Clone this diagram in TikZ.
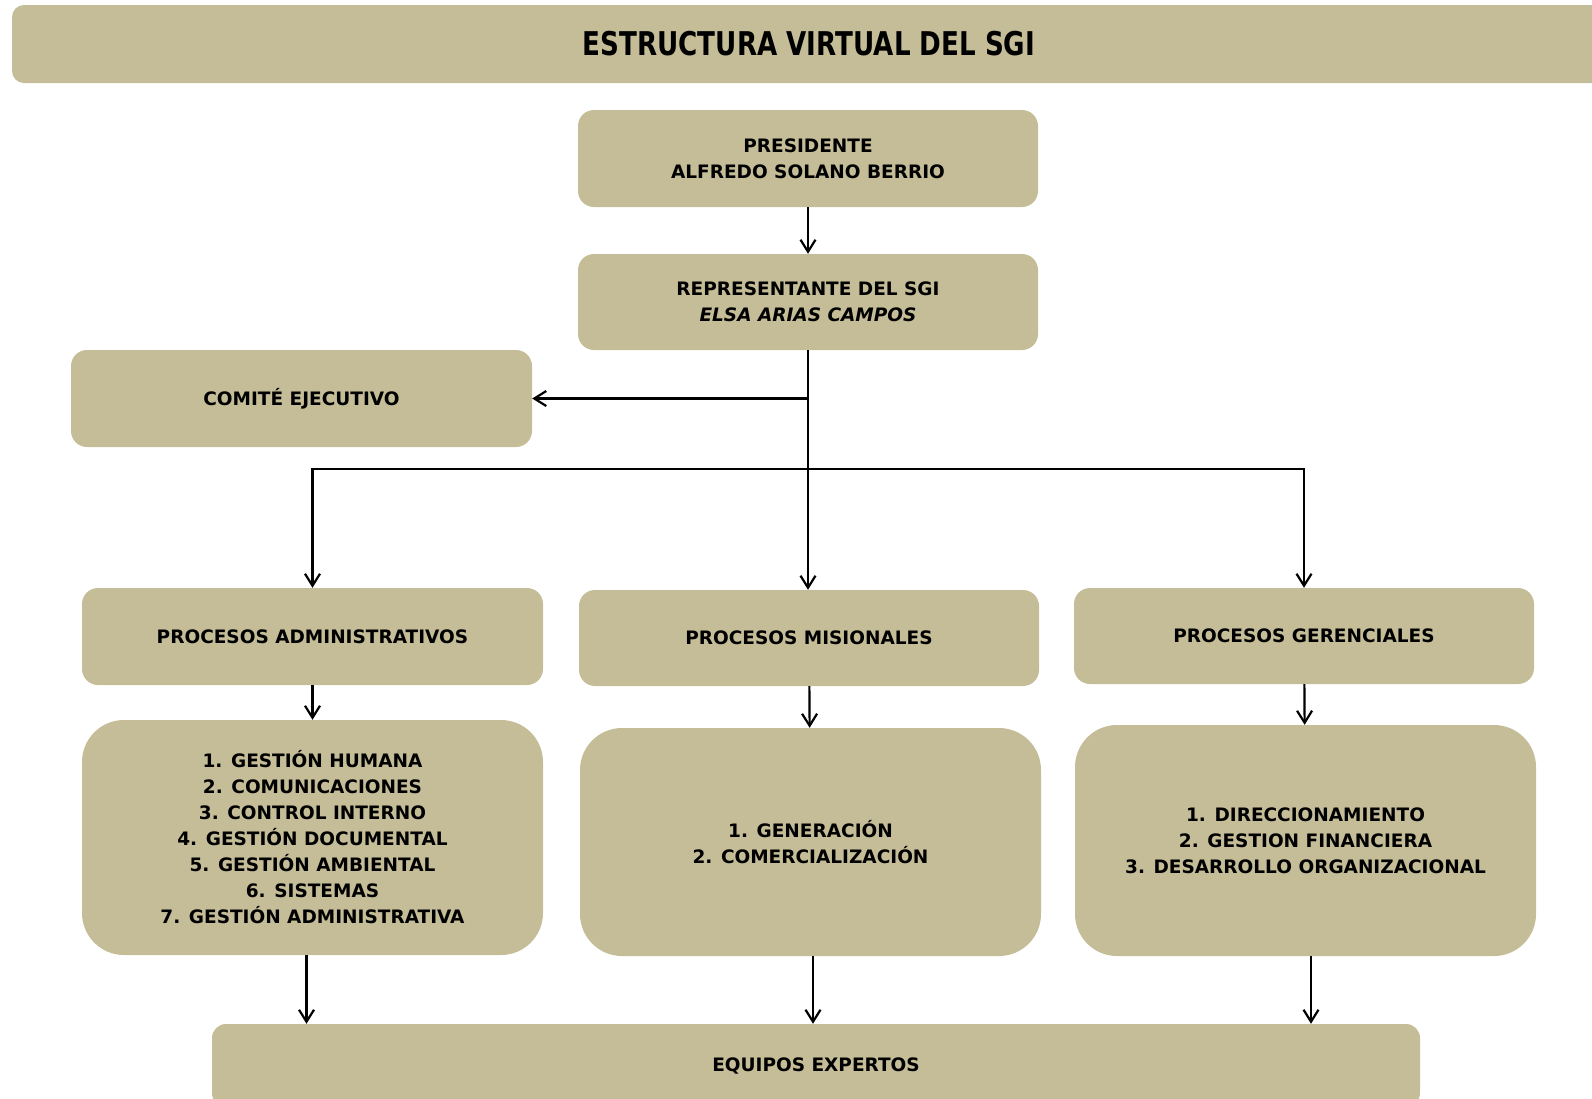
\documentclass[tikz,border=0pt]{standalone}
\usepackage{fontspec}
\setmainfont{DejaVu Sans}
\newfontfamily\titlefont[FakeStretch=0.8]{DejaVu Sans}
\usepackage{tikz}
\usetikzlibrary{arrows.meta, positioning, calc}
\definecolor{sgi-tan}{HTML}{C4BD97}

\begin{document}
\begin{tikzpicture}[x=1pt, y=-1pt,
    box/.style={fill=sgi-tan, rounded corners=16pt, minimum width=460pt, minimum height=96pt, inner sep=0pt, align=center, font=\fontsize{18.5}{26}\selectfont\bfseries},
    listbox/.style={box, rounded corners=42pt},
    link/.style={-{Straight Barb[length=12pt, width=15pt]}, line width=2.2pt}]
    \useasboundingbox (0,0) rectangle (1592,1098);
    \begin{scope}
        \clip (0,0) rectangle (1592,1098);
        \fill[sgi-tan, rounded corners=12pt] (12,5) rectangle (1620,83);
        \node[box, minimum width=1208pt, minimum height=83pt, rounded corners=14pt] (equipos) at (816,1065.5) {EQUIPOS EXPERTOS};
    \end{scope}
    \node[font=\titlefont\fontsize{32.7}{38}\selectfont\bfseries] (title) at (809,44) {ESTRUCTURA VIRTUAL DEL SGI};

    \node[box, minimum height=97pt] (pres) at (808,158.5) {PRESIDENTE\\ALFREDO SOLANO BERRIO};
    \node[box] (rep) at (808,302) {REPRESENTANTE DEL SGI\\\textit{ELSA ARIAS CAMPOS}};
    \node[box, minimum width=461pt, minimum height=97pt] (comite) at (301.5,398.5) {COMITÉ EJECUTIVO};

    \node[box, minimum width=461pt, minimum height=97pt] (padm) at (312.5,636.5) {PROCESOS ADMINISTRATIVOS};
    \node[box] (pmis) at (809,638) {PROCESOS MISIONALES};
    \node[box] (pger) at (1304,636) {PROCESOS GERENCIALES};

    \node[listbox, minimum width=461pt, minimum height=235pt] (ladm) at (312.5,837.5) {1. GESTIÓN HUMANA\\2. COMUNICACIONES\\3. CONTROL INTERNO\\4. GESTIÓN DOCUMENTAL\\5. GESTIÓN AMBIENTAL\\6. SISTEMAS\\7. GESTIÓN ADMINISTRATIVA};
    \node[listbox, minimum width=461pt, minimum height=228pt] (lmis) at (810.5,842) {1. GENERACIÓN\\2. COMERCIALIZACIÓN};
    \node[listbox, minimum width=461pt, minimum height=231pt] (lger) at (1305.5,840.5) {1. DIRECCIONAMIENTO\\2. GESTION FINANCIERA\\3. DESARROLLO ORGANIZACIONAL};

    \coordinate (bus) at (808,469);
    \draw[link] (pres) -- (rep);
    \draw[link] (rep.south) -- (rep.south |- pmis.north);
    \draw[link] (rep.south |- comite.east) -- (comite.east);
    \draw[link] (bus) -| (padm.north);
    \draw[link] (bus) -| (pger.north);
    \draw[link] (padm) -- (ladm);
    \draw[link] (pmis) -- (lmis);
    \draw[link] (pger) -- (lger);
    \draw[link] ([xshift=-6pt]ladm.south) -- ([xshift=-6pt]ladm.south |- equipos.north);
    \draw[link] ([xshift=2.5pt]lmis.south) -- ([xshift=2.5pt]lmis.south |- equipos.north);
    \draw[link] ([xshift=5.5pt]lger.south) -- ([xshift=5.5pt]lger.south |- equipos.north);
\end{tikzpicture}
\end{document}
